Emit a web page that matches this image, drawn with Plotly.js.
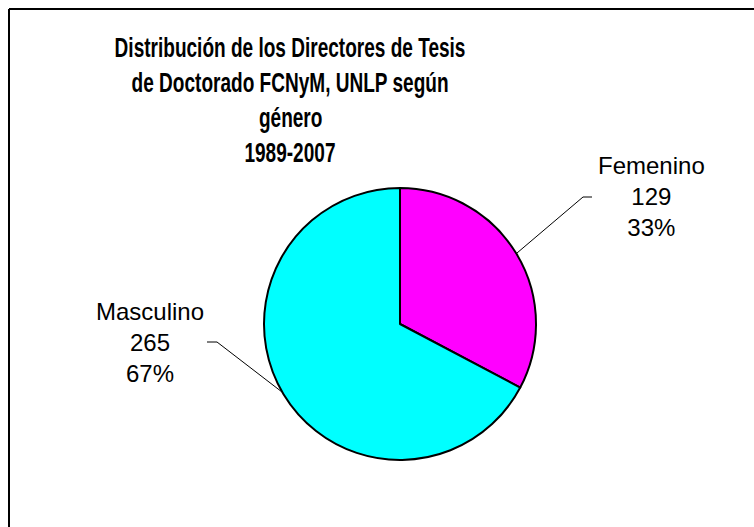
<!DOCTYPE html>
<html>
<head>
<meta charset="utf-8">
<script src="https://cdn.plot.ly/plotly-3.0.1.min.js"></script>
<style>html,body{margin:0;padding:0;background:#fff;}#chart{width:754px;height:527px;}</style>
</head>
<body>
<div id="chart"></div>
<script>
const categories = ["Femenino", "Masculino"];
const values = [129, 265];
const colors = ["#FF00FF", "#00FFFF"];
const titleLines = ["Distribución de los Directores de Tesis", "de Doctorado FCNyM, UNLP según", "género", "1989-2007"];

const W = 754, H = 527;
const px = x => x / W;
const py = y => 1 - y / H;

const total = values.reduce((a, b) => a + b, 0);
const labelText = categories.map((c, i) => c + "<br>" + values[i] + "<br>" + Math.round(values[i] / total * 100) + "%");

const cx = 400, cy = 324, r = 136;

const trace = {
  type: "pie",
  labels: categories,
  values: values,
  sort: false,
  direction: "clockwise",
  rotation: 0,
  textinfo: "none",
  hoverinfo: "none",
  marker: { colors: colors, line: { color: "#000", width: 2 } },
  domain: { x: [px(cx - r), px(cx + r)], y: [py(cy + r), py(cy - r)] },
  showlegend: false
};

const titleFont = { family: "Liberation Sans, Arial", size: 28, color: "#000", weight: 700 };
const titleY = [48, 83, 118, 153];
const titleX = [290, 290, 290, 290];
const annotations = titleLines.map((t, i) => ({
  xref: "paper", yref: "paper", x: px(titleX[i]), y: py(titleY[i]),
  xanchor: "center", yanchor: "middle", showarrow: false, text: t, font: titleFont
}));

const labelPos = [[651, 197], [150, 342]];
labelText.forEach((t, i) => annotations.push({
  xref: "paper", yref: "paper", x: px(labelPos[i][0]), y: py(labelPos[i][1]),
  xanchor: "center", yanchor: "middle", showarrow: false, text: t, align: "center",
  font: { family: "Liberation Sans, Arial", size: 24, color: "#000" }
}));

const leader = [
  [[592, 197], [583, 197], [517, 253]],
  [[207, 342], [217, 342], [282, 392]]
];
const shapes = leader.map(pts => ({
  type: "path", xref: "paper", yref: "paper",
  path: pts.map((p, k) => (k ? "L" : "M") + px(p[0]) + "," + py(p[1])).join(" "),
  line: { color: "#000", width: 1 }
}));
shapes.push({ type: "line", xref: "paper", yref: "paper", x0: px(9), y0: py(9), x1: 1.01, y1: py(9), line: { color: "#000", width: 2 } });
shapes.push({ type: "line", xref: "paper", yref: "paper", x0: px(9), y0: py(9), x1: px(9), y1: -0.01, line: { color: "#000", width: 2 } });

const layout = {
  width: W, height: H,
  margin: { l: 0, r: 0, t: 0, b: 0 },
  paper_bgcolor: "#fff",
  annotations: annotations,
  shapes: shapes
};

Plotly.newPlot("chart", [trace], layout, { staticPlot: true, displayModeBar: false }).then(gd => {
  // condense the title lines horizontally (narrow bold face as in the reference)
  gd.querySelectorAll("g.annotation").forEach(g => {
    const idx = +g.getAttribute("data-index");
    if (idx < titleLines.length) {
      const t = g.querySelector("text.annotation-text");
      if (t) {
        t.style.transformBox = "fill-box";
        t.style.transformOrigin = "center";
        t.style.transform = "scaleX(0.68)";
      }
    }
  });
});
</script>
</body>
</html>
